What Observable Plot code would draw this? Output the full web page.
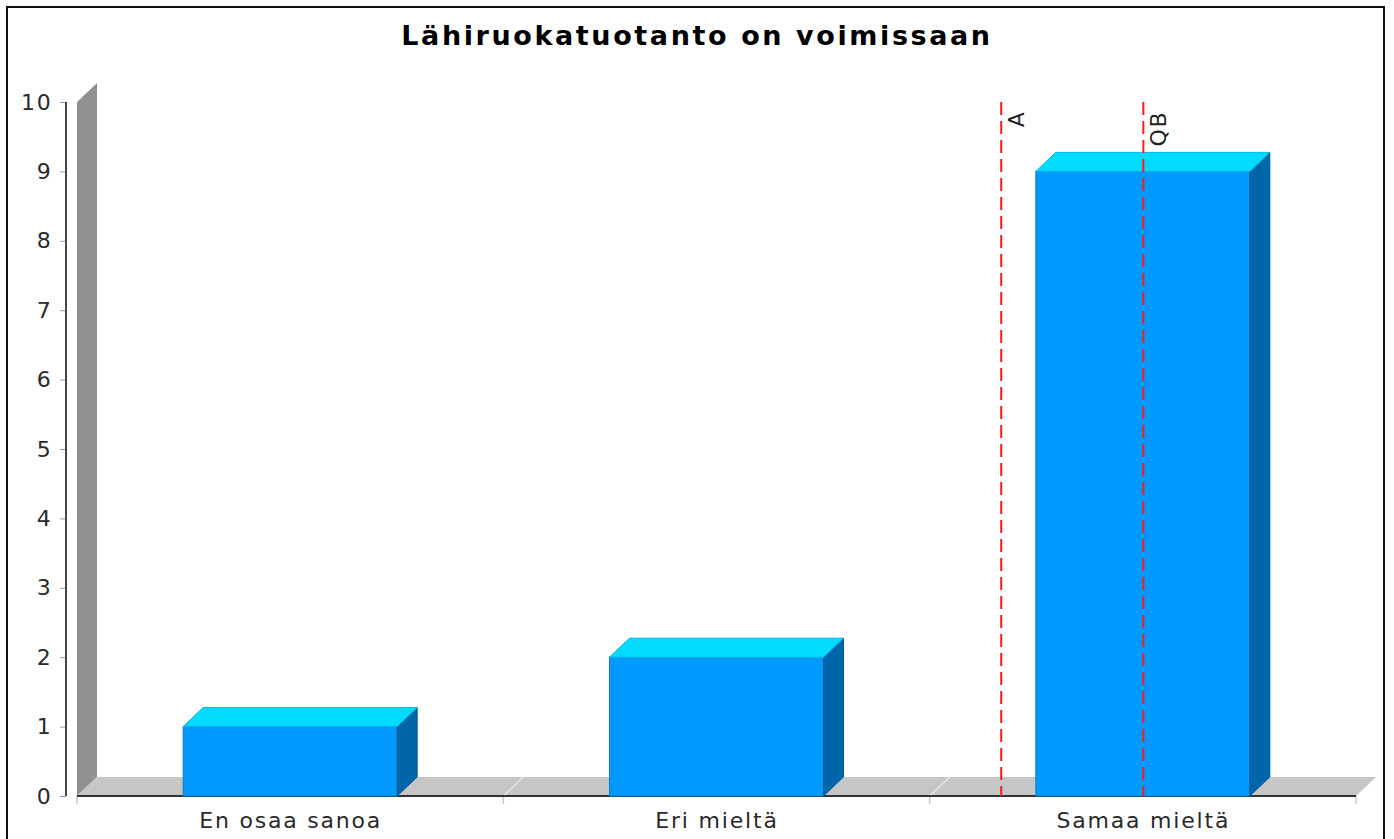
<!DOCTYPE html>
<html>
<head>
<meta charset="utf-8">
<script src="https://cdn.jsdelivr.net/npm/d3@7"></script>
<script src="https://cdn.jsdelivr.net/npm/@observablehq/plot@0.6"></script>
<style>
  html, body { margin: 0; padding: 0; background: #fff; }
  #chart { position: relative; width: 1394px; height: 839px; overflow: hidden; background: #fff; }
  #chart svg { position: absolute; left: 0; top: 0; }
  #frame-border { position: absolute; left: 6px; top: 6px; width: 1375px; height: 900px;
                  border: 2px solid #111; pointer-events: none; }
  #title { position: absolute; left: 0; width: 1394px; top: 20px; text-align: center;
           font-family: "DejaVu Sans", sans-serif; font-weight: bold; font-size: 27px;
           letter-spacing: 2.6px; color: #000; white-space: nowrap; }
  g[aria-label="y-axis tick"] path, g[aria-label="y-axis tick"] line { stroke: #999; }
</style>
</head>
<body>
<div id="chart">
  <div id="title"></div>
  <div id="frame-border"></div>
</div>
<script>
// Survey answers: "Local food production is thriving"
const chartTitle = "Lähiruokatuotanto on voimissaan";
const categories = ["En osaa sanoa", "Eri mieltä", "Samaa mieltä"];
const counts = [1, 2, 9];
const yTicks = [0, 1, 2, 3, 4, 5, 6, 7, 8, 9, 10];
const markerLabels = ["A", "QB"];

// Category positions on a continuous axis (0, 1, 2) so that the
// average and median answers can be placed between categories.
const bars = categories.map((category, i) => ({category, index: i, value: counts[i]}));
const total = d3.sum(counts);
const meanPos = d3.sum(counts, (c, i) => c * i) / total;
const cumulative = Array.from(d3.cumsum(counts));
const medianPos = cumulative.findIndex(c => c >= total / 2);
const markers = [
  {label: markerLabels[0], pos: meanPos},
  {label: markerLabels[1], pos: medianPos}
];

// 3D look: pixel offset of the back faces
const depthX = 20, depthY = -19;
const halfBar = 0.251;

// Back wall, floor, floor separators and category ticks
function backdrop(index, scales, values, dimensions) {
  const {x, y} = scales;
  const g = d3.create("svg:g");
  const xl = x(-0.5), xr = x(categories.length - 0.5);
  const y0 = y(0), yTop = y(10);
  g.append("path")
    .attr("d", `M${xl},${yTop}L${xl + depthX},${yTop + depthY}L${xl + depthX},${y0 + depthY}L${xl},${y0}Z`)
    .attr("fill", "#909090");
  g.append("path")
    .attr("d", `M${xl},${y0}L${xr},${y0}L${xr + depthX},${y0 + depthY}L${xl + depthX},${y0 + depthY}Z`)
    .attr("fill", "#c6c6c6");
  for (let b = 0.5; b < categories.length - 0.5; b++) {
    g.append("line")
      .attr("x1", x(b)).attr("y1", y0).attr("x2", x(b) + depthX).attr("y2", y0 + depthY)
      .attr("stroke", "#e6e6e6").attr("stroke-width", 1.5);
  }
  for (let b = -0.5; b <= categories.length - 0.5; b++) {
    g.append("line")
      .attr("x1", x(b)).attr("y1", y0).attr("x2", x(b)).attr("y2", y0 + 8)
      .attr("stroke", "#c8c8c8").attr("stroke-width", 1.5);
  }
  // category axis line along the front edge of the floor
  g.append("line")
    .attr("x1", xl).attr("y1", y0).attr("x2", xr).attr("y2", y0)
    .attr("stroke", "#333").attr("stroke-width", 2);
  // value axis line
  const ax = dimensions.marginLeft;
  g.append("line")
    .attr("x1", ax).attr("y1", yTop).attr("x2", ax).attr("y2", y0)
    .attr("stroke", "#444").attr("stroke-width", 2);
  return g.node();
}

// Top and right-hand faces of each bar
function barFaces(index, scales) {
  const {x, y} = scales;
  const g = d3.create("svg:g");
  for (const d of bars) {
    const x1 = x(d.index - halfBar), x2 = x(d.index + halfBar);
    const y0 = y(0), y1 = y(d.value);
    g.append("path")
      .attr("d", `M${x2},${y1}L${x2 + depthX},${y1 + depthY}L${x2 + depthX},${y0 + depthY}L${x2},${y0}Z`)
      .attr("fill", "#0066aa").attr("stroke", "#005a99").attr("stroke-width", 1);
    g.append("path")
      .attr("d", `M${x1},${y1}L${x2},${y1}L${x2 + depthX},${y1 + depthY}L${x1 + depthX},${y1 + depthY}Z`)
      .attr("fill", "#00dbff").attr("stroke", "#00b4e4").attr("stroke-width", 1);
  }
  return g.node();
}

document.getElementById("title").textContent = chartTitle;

const plot = Plot.plot({
  width: 1394,
  height: 839,
  marginTop: 102,
  marginBottom: 43,
  marginLeft: 66,
  marginRight: 38,
  style: {
    fontFamily: "'DejaVu Sans', sans-serif",
    fontSize: "22px",
    letterSpacing: "1.8px",
    color: "#2a2a2a",
    background: "transparent",
    overflow: "visible"
  },
  x: {
    type: "linear",
    domain: [-0.5, categories.length - 0.5],
    range: [77, 1356],
    ticks: categories.map((_, i) => i),
    tickFormat: i => categories[i],
    tickSize: 0,
    tickPadding: 16,
    label: null
  },
  y: {
    domain: [0, 10],
    ticks: yTicks,
    tickSize: 6,
    tickPadding: 8,
    label: null
  },
  marks: [
    backdrop,
    Plot.rectY(bars, {
      x1: d => d.index - halfBar,
      x2: d => d.index + halfBar,
      y1: 0,
      y2: "value",
      fill: "#0099ff",
      stroke: "#0880c8",
      strokeWidth: 1
    }),
    barFaces,
    Plot.ruleX(markers, {
      x: "pos",
      stroke: "#ff1a1a",
      strokeWidth: 2,
      strokeDasharray: "13,6"
    }),
    Plot.text(markers, {
      x: "pos",
      text: "label",
      frameAnchor: "top",
      rotate: -90,
      textAnchor: "end",
      lineAnchor: "top",
      dx: 7,
      dy: 8,
      fill: "#222"
    })
  ]
});

document.getElementById("chart").insertBefore(plot, document.getElementById("title"));
</script>
</body>
</html>
